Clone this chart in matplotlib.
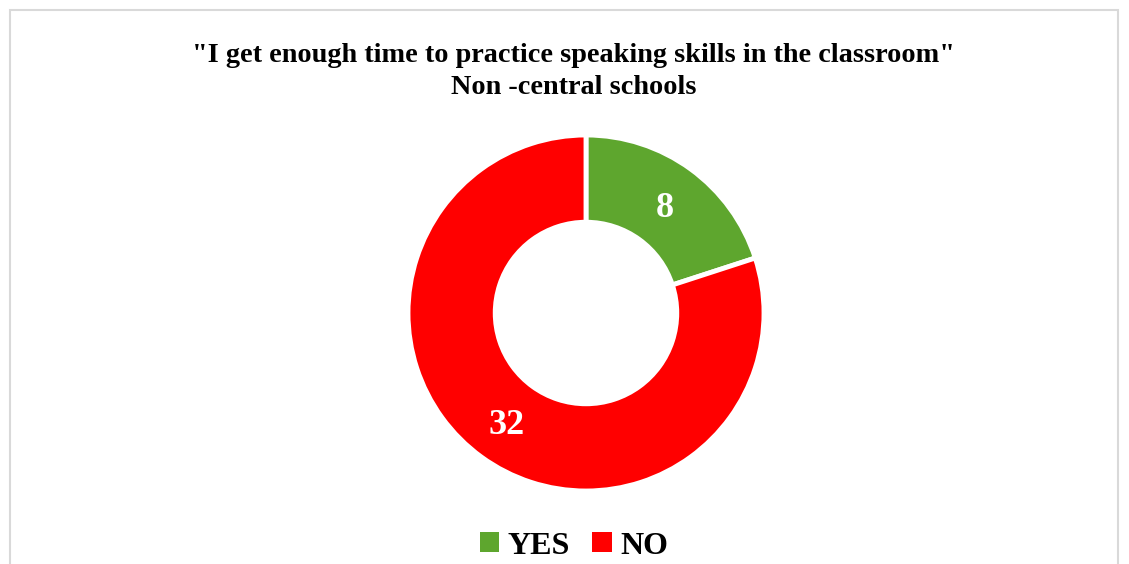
import matplotlib
matplotlib.use("Agg")
import matplotlib.pyplot as plt
import matplotlib.transforms as mtransforms
import numpy as np
from matplotlib.patches import Rectangle, Patch

# Survey answers
categories = ["YES", "NO"]
counts = [8, 32]
colors = ["#5EA62E", "#FF0000"]
title_lines = ['"I get enough time to practice speaking skills in the classroom"',
               "Non -central schools"]

serif = ["Liberation Serif", "DejaVu Serif"]

fig = plt.figure(figsize=(11.29, 5.64), dpi=100)
W, H = 1129, 564

# Light grey chart-area border
fig.patches.append(Rectangle((10 / W, -0.05), 1108 / W, 1.05 - 10 / H,
                             transform=fig.transFigure, fill=False,
                             edgecolor="#d9d9d9", linewidth=1.5))

cx, cy, r = 586, 313, 178
ax = fig.add_axes([(cx - r) / W, (H - cy - r) / H, 2 * r / W, 2 * r / H])

hole = 0.51
wedges, _ = ax.pie(counts, colors=colors, startangle=90, counterclock=False,
                   radius=1, wedgeprops=dict(width=1 - hole, edgecolor="white",
                                             linewidth=3.5))
ax.set_xlim(-1, 1)
ax.set_ylim(-1, 1)
ax.set_aspect("equal")
ax.axis("off")

# Value labels centred in the ring, nudged down so the digits sit mid-band
label_tf = mtransforms.offset_copy(ax.transData, fig=fig, x=0, y=-4, units="dots")
total = sum(counts)
start = 90.0
mid_r = (1 + hole) / 2
for val in counts:
    sweep = val / total * 360
    ang = np.deg2rad(start - sweep / 2)
    ax.text(mid_r * np.cos(ang), mid_r * np.sin(ang), str(val),
            ha="center", va="center", color="white", fontsize=26,
            fontweight="bold", family=serif, transform=label_tf)
    start -= sweep

fig.text(573 / W, 1 - 56 / H, title_lines[0], ha="center", va="center",
         fontsize=20.3, fontweight="bold", family=serif)
fig.text(574 / W, 1 - 87 / H, title_lines[1], ha="center", va="center",
         fontsize=20.3, fontweight="bold", family=serif)

handles = [Patch(facecolor=c, edgecolor="none") for c in colors]
fig.legend(handles, categories, loc="center", bbox_to_anchor=(574 / W, 1 - 546 / H),
           ncol=2, frameon=False, handlelength=0.6, handleheight=0.6,
           handletextpad=0.28, columnspacing=0.7,
           prop=dict(family=serif, weight="bold", size=23))

fig.savefig("out.png", dpi=100, facecolor="white")
